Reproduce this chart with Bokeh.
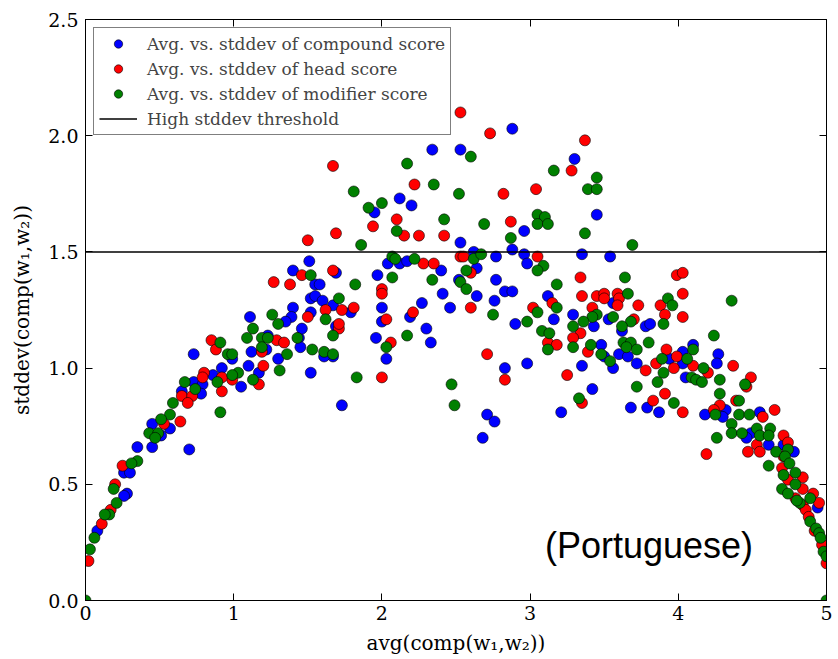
from bokeh.plotting import figure
from bokeh.models import (Legend, LegendItem, Label, LinearAxis, FixedTicker,
                          PrintfTickFormatter, Range1d)
from bokeh.embed import file_html
from bokeh.resources import INLINE

# ---------------- data ----------------
blue_x = [0.99, 1.12, 1.30, 1.44, 1.45, 1.52, 0.73, 1.17, 1.05, 1.10, 0.92, 0.86, 0.73, 0.79, 0.78,
          0.65, 0.57, 0.45, 0.51, 0.70, 0.35, 0.45, 0.26, 0.30, 0.28, 0.26, 0.08, 1.51, 1.40, 1.55,
          1.58, 1.52, 1.55, 1.60, 1.40, 1.39, 1.35, 1.11, 1.52, 1.46, 1.67, 1.61, 1.69, 1.23, 1.22,
          2.88, 2.34, 2.53, 2.12, 2.20, 1.95, 2.53, 2.96, 2.88, 2.04, 2.12, 2.17, 2.62, 2.77, 2.96,
          2.98, 1.69, 1.97, 2.40, 2.64, 2.52, 2.77, 2.83, 2.88, 2.41, 3.12, 2.27, 2.64, 2.76, 3.16,
          2.90, 2.98, 2.83, 2.46, 2.19, 2.30, 2.33, 2.00, 2.00, 1.96, 2.03, 1.73, 2.71, 2.76, 2.68,
          3.21, 1.67, 1.79, 3.30, 3.45, 3.35, 3.54, 3.56, 3.29, 3.53, 3.62, 3.43, 3.78, 3.81, 3.48,
          3.50, 3.60, 3.66, 3.72, 3.56, 3.35, 3.94, 4.03, 4.03, 4.10, 4.05, 4.27, 4.26, 3.79, 3.87,
          3.68, 3.42, 4.32, 4.18, 4.30, 4.55, 4.49, 4.61, 4.71, 4.78, 4.46, 4.94]
blue_y = [1.04, 1.07, 1.04, 1.13, 1.09, 0.98, 1.06, 0.98, 0.92, 1.01, 1.00, 0.97, 0.94, 0.93, 0.89,
          0.90, 0.74, 0.76, 0.71, 0.65, 0.66, 0.66, 0.55, 0.55, 0.46, 0.45, 0.30, 1.46, 1.42, 1.36,
          1.36, 1.30, 1.31, 1.29, 1.26, 1.22, 1.20, 1.22, 1.24, 1.17, 1.05, 1.05, 1.18, 1.14, 1.08,
          2.03, 1.94, 1.94, 1.73, 1.70, 1.67, 1.54, 1.59, 1.51, 1.45, 1.45, 1.46, 1.50, 1.48, 1.49,
          1.45, 1.41, 1.40, 1.42, 1.43, 1.38, 1.38, 1.33, 1.33, 1.32, 1.31, 1.28, 1.31, 1.29, 1.21,
          1.19, 1.02, 1.00, 1.26, 1.22, 1.17, 1.11, 1.26, 1.20, 1.13, 1.04, 0.84, 0.80, 0.77, 0.70,
          0.81, 1.27, 1.24, 1.90, 1.66, 1.49, 1.48, 1.28, 1.23, 1.21, 1.16, 1.18, 1.18, 1.19, 1.10,
          1.05, 1.06, 1.05, 1.02, 1.00, 1.01, 1.04, 1.07, 1.02, 1.10, 0.96, 1.06, 1.02, 0.83, 0.81,
          0.83, 0.91, 0.82, 0.80, 0.79, 0.81, 0.72, 0.67, 0.67, 0.64, 0.70, 0.40]

red_x = [0.85, 0.88, 1.19, 1.29, 1.34, 1.20, 1.17, 0.99, 0.92, 0.92, 0.80, 0.79, 0.65, 0.72, 0.69,
         0.64, 0.53, 0.25, 0.20, 0.17, 0.11, 0.02, 1.50, 1.69, 1.46, 1.27, 1.38, 1.67, 1.50, 1.62,
         1.71, 2.53, 2.73, 1.67, 2.22, 2.82, 3.04, 2.10, 2.87, 1.94, 2.15, 2.25, 2.42, 2.28, 2.35,
         2.53, 2.55, 3.05, 2.60, 2.00, 2.00, 3.15, 3.02, 3.12, 3.18, 2.71, 2.83, 2.60, 2.21, 2.03,
         2.06, 2.00, 1.73, 1.81, 1.71, 3.37, 3.28, 3.34, 3.99, 4.03, 4.03, 3.35, 3.45, 3.50, 3.59,
         3.50, 3.60, 3.59, 3.73, 3.88, 3.91, 4.03, 3.42, 3.70, 3.34, 3.29, 3.39, 3.25, 3.78, 3.85,
         3.92, 3.99, 3.97, 4.10, 4.20, 4.37, 4.49, 4.46, 3.91, 4.03, 3.83, 3.35, 4.39, 4.28, 4.24,
         4.57, 4.65, 4.71, 4.53, 4.47, 4.55, 4.74, 4.70, 4.19, 4.84, 4.71, 4.74, 4.84, 4.79, 4.91,
         4.84, 4.95, 4.86, 4.88, 4.92, 4.97, 5.00]
red_y = [1.12, 1.08, 1.07, 1.12, 1.11, 1.01, 0.93, 0.95, 0.96, 0.90, 0.98, 0.96, 0.88, 0.88, 0.85,
         0.77, 0.76, 0.58, 0.50, 0.39, 0.33, 0.17, 1.55, 1.58, 1.40, 1.37, 1.36, 1.42, 1.22, 1.25,
         1.17, 2.10, 2.01, 1.87, 1.79, 1.75, 1.77, 1.64, 1.63, 1.61, 1.57, 1.57, 1.57, 1.45, 1.45,
         1.48, 1.48, 1.48, 1.41, 1.34, 1.32, 1.28, 1.26, 1.11, 1.10, 1.06, 0.95, 1.26, 1.24, 1.21,
         1.11, 0.96, 1.25, 1.26, 1.19, 1.98, 1.85, 1.39, 1.40, 1.41, 1.32, 1.31, 1.31, 1.32, 1.32,
         1.30, 1.30, 1.27, 1.27, 1.27, 1.23, 1.22, 1.26, 1.21, 1.15, 1.13, 1.07, 0.97, 0.99, 1.02,
         1.08, 1.05, 1.00, 1.01, 0.98, 1.01, 0.96, 0.92, 0.89, 0.81, 0.86, 0.85, 0.86, 0.84, 0.82,
         0.79, 0.82, 0.71, 0.67, 0.64, 0.64, 0.68, 0.57, 0.63, 0.53, 0.62, 0.52, 0.48, 0.44, 0.46,
         0.41, 0.42, 0.39, 0.36, 0.30, 0.24, 0.16]

green_x = [0.91, 0.96, 0.99, 1.09, 1.19, 1.23, 1.19, 1.36, 1.53, 1.61, 1.67, 1.13, 1.03, 0.99, 0.89,
           0.67, 0.74, 0.91, 0.59, 0.57, 0.51, 0.43, 0.49, 0.47, 0.35, 0.31, 0.19, 0.21, 0.16, 0.13,
           0.06, 0.03, 0.00, 1.13, 1.52, 1.26, 1.30, 1.62, 1.43, 1.67, 1.31, 2.60, 2.17, 3.16, 2.35,
           2.52, 1.81, 1.91, 2.00, 2.42, 2.69, 3.05, 3.10, 3.05, 3.12, 2.10, 1.86, 2.87, 2.07, 2.09,
           2.22, 2.62, 2.67, 3.09, 3.05, 1.82, 2.07, 2.34, 2.57, 2.53, 2.57, 3.18, 1.71, 3.18, 3.05,
           2.98, 3.08, 3.13, 3.12, 2.75, 2.17, 2.03, 1.83, 2.47, 2.49, 3.45, 3.39, 3.45, 3.37, 3.69,
           3.64, 3.66, 3.93, 4.36, 3.45, 3.42, 3.36, 3.56, 3.68, 3.62, 3.29, 3.29, 3.96, 3.90, 3.80,
           3.41, 3.48, 3.63, 3.68, 3.65, 3.72, 3.54, 3.72, 3.86, 3.89, 3.90, 4.10, 4.06, 4.09, 4.12,
           4.16, 4.17, 4.24, 4.28, 4.28, 4.45, 3.97, 3.33, 4.41, 4.25, 4.36, 4.41, 4.48, 4.36, 4.43,
           4.53, 4.55, 4.62, 4.61, 4.66, 4.74, 4.72, 4.75, 4.61, 4.26, 4.71, 4.79, 4.79, 4.70, 4.74,
           4.82, 4.80, 4.89, 4.89, 4.93, 4.95, 4.96, 4.98, 5.00, 5.00]
green_y = [1.11, 1.06, 1.06, 1.13, 1.13, 1.13, 1.09, 1.06, 1.08, 1.07, 1.06, 0.95, 0.98, 0.97, 0.94,
           0.94, 0.91, 0.81, 0.85, 0.80, 0.78, 0.72, 0.72, 0.70, 0.60, 0.59, 0.48, 0.42, 0.37, 0.37,
           0.27, 0.22, 0.00, 1.17, 1.40, 1.23, 1.19, 1.21, 1.13, 1.14, 0.99, 1.91, 1.88, 1.85, 1.79,
           1.75, 1.76, 1.69, 1.71, 1.64, 1.62, 1.66, 1.65, 1.62, 1.62, 1.59, 1.53, 1.56, 1.48, 1.47,
           1.47, 1.47, 1.49, 1.44, 1.42, 1.36, 1.39, 1.38, 1.42, 1.37, 1.34, 1.36, 1.30, 1.26, 1.24,
           1.20, 1.16, 1.15, 1.08, 1.23, 1.14, 1.09, 0.96, 0.93, 0.84, 1.82, 1.77, 1.77, 1.58, 1.53,
           1.39, 1.32, 1.30, 1.29, 1.23, 1.22, 1.20, 1.22, 1.20, 1.18, 1.18, 1.09, 1.27, 1.19, 1.11,
           1.10, 1.06, 1.11, 1.11, 1.09, 1.08, 1.03, 0.92, 0.94, 1.04, 0.98, 1.08, 1.04, 0.96, 0.95,
           0.94, 1.00, 1.14, 0.95, 0.89, 0.93, 0.85, 0.87, 0.86, 0.80, 0.76, 0.80, 0.80, 0.72, 0.72,
           0.74, 0.71, 0.74, 0.71, 0.64, 0.65, 0.62, 0.59, 0.58, 0.70, 0.54, 0.55, 0.50, 0.48, 0.46,
           0.42, 0.43, 0.44, 0.34, 0.31, 0.29, 0.27, 0.21, 0.19, 0.00]

threshold = 1.5
threshold_x = [0, 5]
x_ticks = [0, 1, 2, 3, 4, 5]
y_ticks = [0.0, 0.5, 1.0, 1.5, 2.0, 2.5]
labels = ["Avg. vs. stddev of compound score",
          "Avg. vs. stddev of head score",
          "Avg. vs. stddev of modifier score",
          "High stddev threshold"]
annotation = "(Portuguese)"

SERIF = "DejaVu Serif"

p = figure(width=838, height=659, output_backend="svg", toolbar_location=None,
           x_range=Range1d(0, 5), y_range=Range1d(0, 2.5),
           min_border_left=85, min_border_right=12, min_border_top=19, min_border_bottom=59)
p.background_fill_color = "white"
p.border_fill_color = "white"
p.outline_line_color = "black"
p.outline_line_width = 1
p.grid.visible = False

rb = p.scatter(blue_x, blue_y, size=11, fill_color="#0000ff", line_color="black", line_width=0.6)
rr = p.scatter(red_x, red_y, size=11, fill_color="#ff0000", line_color="black", line_width=0.6)
rg = p.scatter(green_x, green_y, size=11, fill_color="#008000", line_color="black", line_width=0.6)
rl = p.line(threshold_x, [threshold, threshold], line_color="black", line_width=1.5)

def style_axis(ax, ticks, fmt, show_labels):
    ax.ticker = FixedTicker(ticks=ticks)
    ax.formatter = PrintfTickFormatter(format=fmt)
    ax.major_tick_in = 7
    ax.major_tick_out = 0
    ax.minor_tick_line_color = None
    ax.axis_line_color = "black"
    ax.major_tick_line_color = "black"
    ax.major_label_text_font = SERIF
    ax.major_label_text_font_size = "19px" if show_labels else "0px"
    ax.major_label_text_color = "black" if show_labels else None
    ax.axis_label_text_font = SERIF
    ax.axis_label_text_font_size = "20px"
    ax.axis_label_text_font_style = "normal"
    ax.axis_label_text_color = "black"

xa = p.xaxis[0]
ya = p.yaxis[0]
style_axis(xa, x_ticks, "%d", True)
style_axis(ya, y_ticks, "%.1f", True)
xa.axis_label = "avg(comp(w\u2081,w\u2082))"
ya.axis_label = "stddev(comp(w\u2081,w\u2082))"
xa.major_label_standoff = 5
ya.major_label_standoff = 7
xa.axis_label_standoff = 8
ya.axis_label_standoff = 11

top = LinearAxis()
style_axis(top, x_ticks, "%d", False)
p.add_layout(top, "above")
right = LinearAxis()
style_axis(right, y_ticks, "%.1f", False)
p.add_layout(right, "right")

legend = Legend(items=[LegendItem(label=labels[0], renderers=[rb]),
                       LegendItem(label=labels[1], renderers=[rr]),
                       LegendItem(label=labels[2], renderers=[rg]),
                       LegendItem(label=labels[3], renderers=[rl])],
                location="top_left")
legend.label_text_font = SERIF
legend.label_text_font_size = "17px"
legend.border_line_color = "black"
legend.border_line_width = 1.5
legend.margin = 8
legend.padding = 5
legend.spacing = 4
legend.glyph_width = 38
legend.glyph_height = 21
legend.label_height = 21
legend.label_standoff = 10
p.add_layout(legend)

p.add_layout(Label(x=3.1, y=0.15, text=annotation, text_font="Liberation Sans",
                   text_font_size="36px", text_color="black"))

open("out.html", "w").write(file_html(p, INLINE))
